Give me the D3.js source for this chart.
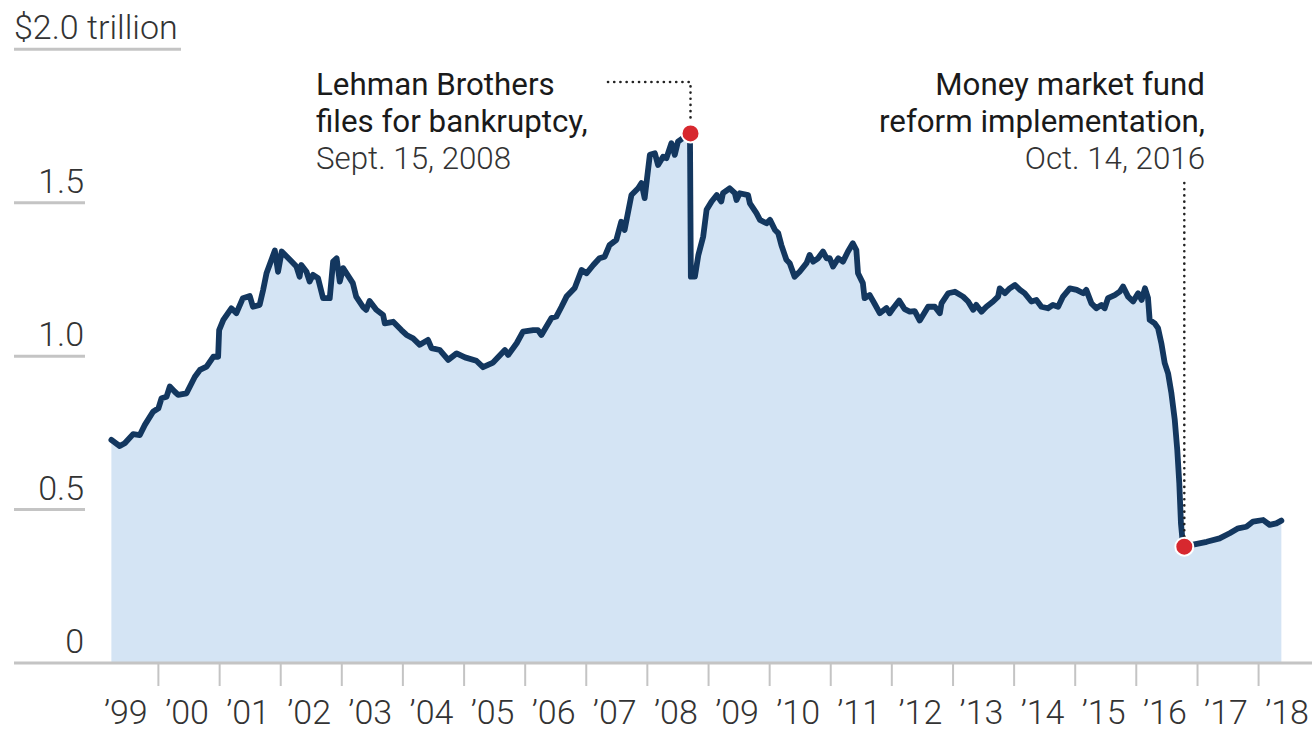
<!DOCTYPE html>
<html>
<head>
<meta charset="utf-8">
<script src="https://cdn.jsdelivr.net/npm/d3@7"></script>
<style>
  body { margin: 0; background: #fff; }
  text { font-family: Roboto, "Helvetica Neue", Arial, sans-serif; }
</style>
</head>
<body>
<svg id="chart" width="1312" height="731"></svg>
<script>
// Money market fund assets, trillions of dollars
var dates = [
  "1999-03-26","1999-05-15","1999-06-14","1999-08-03","1999-09-12","1999-10-12","1999-11-30",
  "2000-01-01","2000-01-20","2000-02-19","2000-03-09","2000-04-08","2000-04-28","2000-06-17","2000-08-06","2000-09-05","2000-10-15","2000-11-24","2000-12-23","2000-12-29",
  "2001-01-23","2001-03-12","2001-04-11","2001-05-20","2001-06-30","2001-07-19","2001-08-28","2001-09-18","2001-10-08","2001-11-27","2001-12-16",
  "2002-01-07","2002-02-25","2002-04-05","2002-04-24","2002-05-04","2002-06-04","2002-06-23","2002-07-13","2002-08-12","2002-09-11","2002-10-21","2002-11-10","2002-12-01","2002-12-20",
  "2003-01-09","2003-03-08","2003-03-28","2003-05-07","2003-05-27","2003-06-16","2003-07-26","2003-09-05","2003-09-15","2003-11-04","2003-12-23",
  "2004-01-23","2004-03-02","2004-04-11","2004-05-30","2004-06-20","2004-08-09","2004-09-28","2004-11-17",
  "2005-01-06","2005-03-15","2005-04-24","2005-06-23","2005-09-02","2005-09-21","2005-11-11","2005-12-19",
  "2006-02-18","2006-03-18","2006-04-08","2006-05-07","2006-06-07","2006-07-06","2006-08-06","2006-09-05","2006-10-24","2006-12-04",
  "2007-01-03","2007-02-12","2007-03-21","2007-04-21","2007-05-20","2007-06-30","2007-07-29","2007-08-18","2007-09-28","2007-11-07","2007-11-27","2007-12-16",
  "2008-01-16","2008-02-15","2008-03-05","2008-04-04","2008-04-24","2008-05-24","2008-06-13","2008-07-02","2008-08-12","2008-08-26","2008-09-12","2008-09-17","2008-10-11","2008-11-01","2008-11-30","2008-12-20",
  "2009-01-19","2009-02-19","2009-03-18","2009-03-28","2009-05-07","2009-06-07","2009-06-17","2009-07-06","2009-08-25","2009-09-05","2009-10-14","2009-11-04","2009-12-13",
  "2010-01-03","2010-02-02","2010-02-21","2010-03-12","2010-04-11","2010-05-01","2010-05-30","2010-06-29","2010-08-09","2010-08-28","2010-09-18","2010-10-17","2010-11-16","2010-12-07","2010-12-26",
  "2011-01-15","2011-02-15","2011-03-15","2011-04-14","2011-05-13","2011-06-03","2011-06-13","2011-07-12","2011-07-22","2011-08-22","2011-09-21","2011-10-21","2011-11-30","2011-12-19",
  "2012-01-09","2012-02-14","2012-03-18","2012-04-17","2012-05-17","2012-06-16","2012-08-05","2012-09-14","2012-10-14","2012-10-24","2012-12-03",
  "2013-01-12","2013-03-02","2013-04-01","2013-05-01","2013-05-20","2013-06-20","2013-07-19","2013-08-28","2013-09-27","2013-10-07","2013-11-07","2013-12-06",
  "2014-01-06","2014-02-05","2014-03-05","2014-04-14","2014-05-14","2014-06-13","2014-07-22","2014-08-21","2014-09-21","2014-10-20","2014-11-30",
  "2015-01-10","2015-02-18","2015-03-08","2015-04-08","2015-05-07","2015-06-07","2015-06-26","2015-07-16","2015-08-25","2015-09-24","2015-10-14","2015-11-13","2015-12-13",
  "2016-01-12","2016-02-02","2016-02-22","2016-03-11","2016-03-21","2016-04-20","2016-05-10","2016-05-30","2016-06-19","2016-07-09","2016-07-29","2016-08-18","2016-09-02","2016-09-14","2016-09-24","2016-10-07","2016-11-28",
  "2017-02-25","2017-05-13","2017-07-12","2017-09-01","2017-10-20","2017-11-29",
  "2018-01-28","2018-03-08","2018-04-17","2018-05-17"
];
var values = [
  0.727,0.707,0.716,0.746,0.743,0.776,0.819,
  0.830,0.863,0.868,0.901,0.884,0.874,0.879,0.933,0.955,0.966,0.998,0.998,1.085,
  1.118,1.156,1.140,1.189,1.196,1.161,1.167,1.216,1.270,1.344,1.275,
  1.341,1.314,1.292,1.259,1.297,1.275,1.243,1.265,1.254,1.189,1.189,1.308,1.319,1.243,
  1.287,1.238,1.194,1.161,1.151,1.180,1.151,1.134,1.107,1.112,1.085,
  1.069,1.058,1.037,1.053,1.026,1.020,0.988,1.009,
  0.996,0.985,0.964,0.979,1.020,1.004,1.042,1.080,
  1.085,1.085,1.069,1.096,1.124,1.129,1.161,1.194,1.222,1.281,
  1.270,1.297,1.319,1.324,1.362,1.379,1.438,1.411,1.525,1.547,1.564,1.515,
  1.656,1.661,1.623,1.650,1.645,1.694,1.656,1.699,1.715,1.726,1.700,1.259,1.259,1.330,1.390,1.477,
  1.504,1.525,1.504,1.531,1.547,1.531,1.509,1.531,1.525,1.498,1.466,1.444,1.433,
  1.444,1.411,1.401,1.362,1.314,1.303,1.259,1.275,1.303,1.330,1.308,1.319,1.341,1.319,1.319,
  1.292,1.319,1.308,1.341,1.368,1.346,1.270,1.238,1.189,1.199,1.170,1.140,1.157,1.140,
  1.156,1.181,1.153,1.145,1.147,1.116,1.161,1.161,1.140,1.172,1.205,
  1.210,1.194,1.178,1.151,1.167,1.145,1.161,1.178,1.194,1.221,1.205,1.221,
  1.232,1.216,1.205,1.178,1.183,1.161,1.156,1.167,1.161,1.194,1.221,
  1.216,1.205,1.216,1.172,1.156,1.167,1.156,1.189,1.199,1.210,1.227,1.194,1.178,
  1.205,1.183,1.221,1.190,1.118,1.107,1.091,1.042,0.977,0.944,0.879,0.792,0.694,0.586,0.455,0.379,0.385,
  0.395,0.406,0.423,0.439,0.444,0.461,
  0.466,0.450,0.455,0.464
];

var yTicks = [0, 0.5, 1.0, 1.5, 2.0];
var yTickLabels = ["0", "0.5", "1.0", "1.5", "$2.0 trillion"];
var yearLabels = ["’99","’00","’01","’02","’03","’04","’05","’06","’07","’08","’09","’10","’11","’12","’13","’14","’15","’16","’17","’18"];

var noteDates = ["2008-09-15", "2016-10-14"];
var noteValues = [1.726, 0.379];
var noteHead = [["Lehman Brothers", "files for bankruptcy,"], ["Money market fund", "reform implementation,"]];
var noteDateText = ["Sept. 15, 2008", "Oct. 14, 2016"];

var parse = d3.timeParse("%Y-%m-%d");
var data = dates.map(function(d, i) { return { date: parse(d), value: values[i] }; });

var svg = d3.select("#chart");

var x = d3.scaleTime()
    .domain([new Date(2000, 0, 1), new Date(2018, 0, 1)])
    .range([158.4, 1258.6]);

var y = d3.scaleLinear()
    .domain([0, 2])
    .range([663, 49.3]);

var area = d3.area()
    .x(function(d) { return x(d.date); })
    .y0(y(0))
    .y1(function(d) { return y(d.value); });

var line = d3.line()
    .x(function(d) { return x(d.date); })
    .y(function(d) { return y(d.value); });

// y grid stubs + labels
yTicks.forEach(function(t, i) {
    if (t > 0) {
        svg.append("line")
            .attr("x1", 14)
            .attr("x2", t == 2 ? 181 : 85)
            .attr("y1", y(t))
            .attr("y2", y(t))
            .attr("stroke", "#c4c4c4")
            .attr("stroke-width", 3);
    }
    svg.append("text")
        .attr("x", t == 2 ? 14 : 84)
        .attr("y", y(t) - 10)
        .attr("text-anchor", t == 2 ? "start" : "end")
        .attr("fill", "#333")
        .style("font-size", "34px")
        .style("font-weight", 300)
        .text(yTickLabels[i]);
});

svg.append("path")
    .datum(data)
    .attr("d", area)
    .attr("fill", "#d4e4f4");

// axis base
svg.append("line")
    .attr("x1", 14)
    .attr("x2", 1312)
    .attr("y1", y(0))
    .attr("y2", y(0))
    .attr("stroke", "#c4c4c4")
    .attr("stroke-width", 3);

var years = d3.timeYears(new Date(2000, 0, 1), new Date(2018, 11, 31));
svg.selectAll(".xtick")
    .data(years)
    .enter().append("line")
    .attr("class", "xtick")
    .attr("x1", function(d) { return x(d); })
    .attr("x2", function(d) { return x(d); })
    .attr("y1", y(0))
    .attr("y2", y(0) + 23)
    .attr("stroke", "#c4c4c4")
    .attr("stroke-width", 2);

svg.selectAll(".xlabel")
    .data(yearLabels)
    .enter().append("text")
    .attr("class", "xlabel")
    .attr("x", function(d, i) { return x(new Date(1999 + i, 6, 2)) - 2; })
    .attr("y", 724)
    .attr("text-anchor", "middle")
    .attr("fill", "#333")
    .style("font-size", "34px")
    .style("font-weight", 300)
    .text(function(d) { return d; });

svg.append("path")
    .datum(data)
    .attr("d", line)
    .attr("fill", "none")
    .attr("stroke", "#13375f")
    .attr("stroke-width", 5.8)
    .attr("stroke-linejoin", "round")
    .attr("stroke-linecap", "round");

// annotations
var nx0 = x(parse(noteDates[0])), ny0 = y(noteValues[0]);
var nx1 = x(parse(noteDates[1])), ny1 = y(noteValues[1]);

svg.append("path")
    .attr("d", "M608,82H" + nx0 + "V" + (ny0 - 10))
    .attr("fill", "none")
    .attr("stroke", "#222")
    .attr("stroke-width", 2.6)
    .attr("stroke-linecap", "round")
    .attr("stroke-dasharray", "0.1,6.1");

svg.append("path")
    .attr("d", "M" + nx1 + ",183V" + (ny1 - 10))
    .attr("fill", "none")
    .attr("stroke", "#222")
    .attr("stroke-width", 2.6)
    .attr("stroke-linecap", "round")
    .attr("stroke-dasharray", "0.1,6.1");

var noteX = [316, 1205];
var noteAnchor = ["start", "end"];
noteHead.forEach(function(lines, k) {
    var t = svg.append("text")
        .attr("x", noteX[k])
        .attr("y", 95)
        .attr("text-anchor", noteAnchor[k])
        .style("font-size", "31.3px");
    lines.forEach(function(s, j) {
        t.append("tspan")
            .attr("x", noteX[k])
            .attr("dy", j == 0 ? 0 : 37)
            .attr("fill", "#1a1a1a")
            .style("font-weight", 400)
            .text(s);
    });
    t.append("tspan")
        .attr("x", noteX[k])
        .attr("dy", 37)
        .attr("fill", "#333")
        .style("font-weight", 300)
        .text(noteDateText[k]);
});

svg.selectAll(".dot")
    .data([[nx0, ny0], [nx1, ny1]])
    .enter().append("circle")
    .attr("class", "dot")
    .attr("cx", function(d) { return d[0]; })
    .attr("cy", function(d) { return d[1]; })
    .attr("r", 9)
    .attr("fill", "#d7282f")
    .attr("stroke", "#fff")
    .attr("stroke-width", 2);
</script>
</body>
</html>
